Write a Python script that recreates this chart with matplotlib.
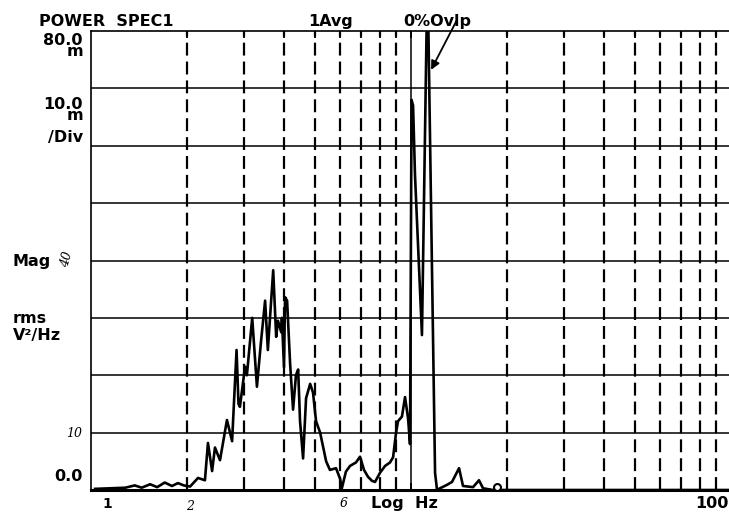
import numpy as np
from matplotlib import pyplot as plt

# Power spectrum trace, 1 Hz .. 100 Hz, magnitude in m V^2/Hz (10 m per division)
freq_hz = [1.03, 1.15, 1.28, 1.37, 1.44, 1.53, 1.61, 1.70, 1.79, 1.87, 1.95, 2.04,
           2.16, 2.27, 2.32, 2.39, 2.44, 2.53, 2.66, 2.76, 2.85, 2.89, 2.92, 3.03,
           3.07, 3.19, 3.30, 3.40, 3.50, 3.57, 3.71, 3.79, 3.84, 3.93, 3.95, 4.01,
           4.04, 4.10, 4.19, 4.28, 4.37, 4.44, 4.50, 4.60, 4.70, 4.84, 4.94, 5.05,
           5.20, 5.43, 5.58, 5.83, 6.00, 6.08, 6.26, 6.45, 6.73, 6.93, 7.13, 7.34,
           7.55, 7.72, 8.00, 8.30, 8.60, 8.79, 8.98, 9.11, 9.37, 9.58, 9.79, 9.93,
           10.04, 10.15, 10.29, 10.82, 11.22, 11.30, 11.89, 12.06, 12.32, 12.96,
           13.43, 14.13, 14.54, 15.63, 16.31, 16.79, 18.04, 30.0, 60.0, 98.0]
mag_m = [0.2, 0.3, 0.4, 0.8, 0.4, 1.0, 0.5, 1.3, 0.7, 1.2, 0.8, 0.6,
         2.1, 1.7, 8.2, 3.3, 7.4, 5.2, 12.2, 8.5, 24.4, 15.0, 14.5, 21.5,
         20.0, 30.0, 18.0, 26.0, 33.0, 24.4, 38.3, 26.7, 29.5, 27.5, 30.0, 21.4,
         33.6, 33.0, 22.0, 14.0, 20.0, 21.0, 12.0, 5.5, 16.0, 18.5, 17.0, 12.0,
         10.0, 5.0, 3.5, 3.8, 2.0, 0.3, 3.2, 4.2, 4.8, 5.8, 3.5, 2.3,
         1.6, 1.4, 3.0, 4.2, 4.8, 5.7, 10.0, 12.0, 12.8, 16.2, 12.5, 8.0,
         68.0, 67.0, 55.0, 27.0, 85.0, 85.0, 3.0, 0.0, 0.3, 0.9,
         1.4, 3.8, 0.7, 0.5, 1.7, 0.3, 0.0, 0.0, 0.0, 0.0]

decade_px = 320.0
x_span_px = 638.0
f_start = 1.0
f_stop = 10 ** (x_span_px / decade_px)
minor_lines = [2, 3, 4, 5, 6, 7, 8, 9, 20, 30, 40, 50, 60, 70, 80, 90]
major_lines = [10]
div_lines = [10, 20, 30, 40, 50, 60, 70]
marker_hz = 18.6
arrow_tip = (11.45, 72.8)
arrow_tail = (14.0, 82.2)

W, H = 729, 512
fig = plt.figure(figsize=(W / 100, H / 100), dpi=100)
ax = fig.add_axes([91 / W, 22 / H, x_span_px / W, 459 / H])
ax.set_xscale('log')
ax.set_xlim(f_start, f_stop)
ax.set_ylim(0, 80)

for f in minor_lines:
    ax.axvline(f, color='k', lw=1.6, ls=(0, (5.8, 2.7)), zorder=1)
for f in major_lines:
    ax.axvline(f, color='k', lw=1.1, zorder=1)
for v in div_lines:
    ax.axhline(v, color='k', lw=1.1, zorder=1)

ax.plot(freq_hz, mag_m, color='k', lw=1.9, solid_joinstyle='round', zorder=3)
ax.plot(marker_hz, 0.5, 'o', mfc='white', mec='k', ms=5, mew=1.5, clip_on=False, zorder=4)
ax.annotate('', xy=arrow_tip, xytext=arrow_tail, annotation_clip=False,
            arrowprops=dict(arrowstyle='-|>', color='k', lw=1.3, mutation_scale=13))

ax.set_xticks(minor_lines + major_lines, minor=False)
ax.set_xticks([], minor=True)
ax.tick_params(axis='x', which='both', direction='in', length=5, width=1.3,
               top=True, bottom=True, labelbottom=False)
ax.set_yticks([])
ax.spines['right'].set_visible(False)
ax.spines['left'].set_linewidth(1.2)
ax.spines['top'].set_linewidth(1.2)
ax.spines['bottom'].set_linewidth(2.2)


def label(x, y, s, ha='left', size=11.5, **kw):
    # place text by pixel position (x from left, baseline of last line y from top)
    fig.text(x / W, 1 - y / H, s, ha=ha, va='baseline', fontsize=size,
             family='DejaVu Sans', fontweight='bold', **kw)


label(106, 26, 'POWER  SPEC1', ha='center')
label(331, 26, '1Avg', ha='center')
label(437, 26, '0%Ovlp', ha='center')
label(83, 56, '80.0\nm', ha='right', ma='right', linespacing=0.68)
label(83, 120, '10.0\nm', ha='right', ma='right', linespacing=0.68)
label(83, 142, '/Div', ha='right')
label(13, 266, 'Mag')
label(13, 323, 'rms')
label(13, 340, 'V²/Hz')
label(83, 481, '0.0', ha='right')
label(107, 508, '1', ha='center', size=10)
label(404, 508, 'Log  Hz', ha='center')
label(729, 508, '100', ha='right')

# pencil notes on the print
hand = dict(family='DejaVu Serif', fontstyle='italic', fontsize=9, va='baseline')
fig.text(58 / W, 1 - 266 / H, '40', rotation=75, **hand)
fig.text(66 / W, 1 - 437 / H, '10', **hand)
fig.text(186 / W, 1 - 510 / H, '2', **hand)
fig.text(340 / W, 1 - 507 / H, '6', **hand)

fig.savefig('out.png', dpi=100)
